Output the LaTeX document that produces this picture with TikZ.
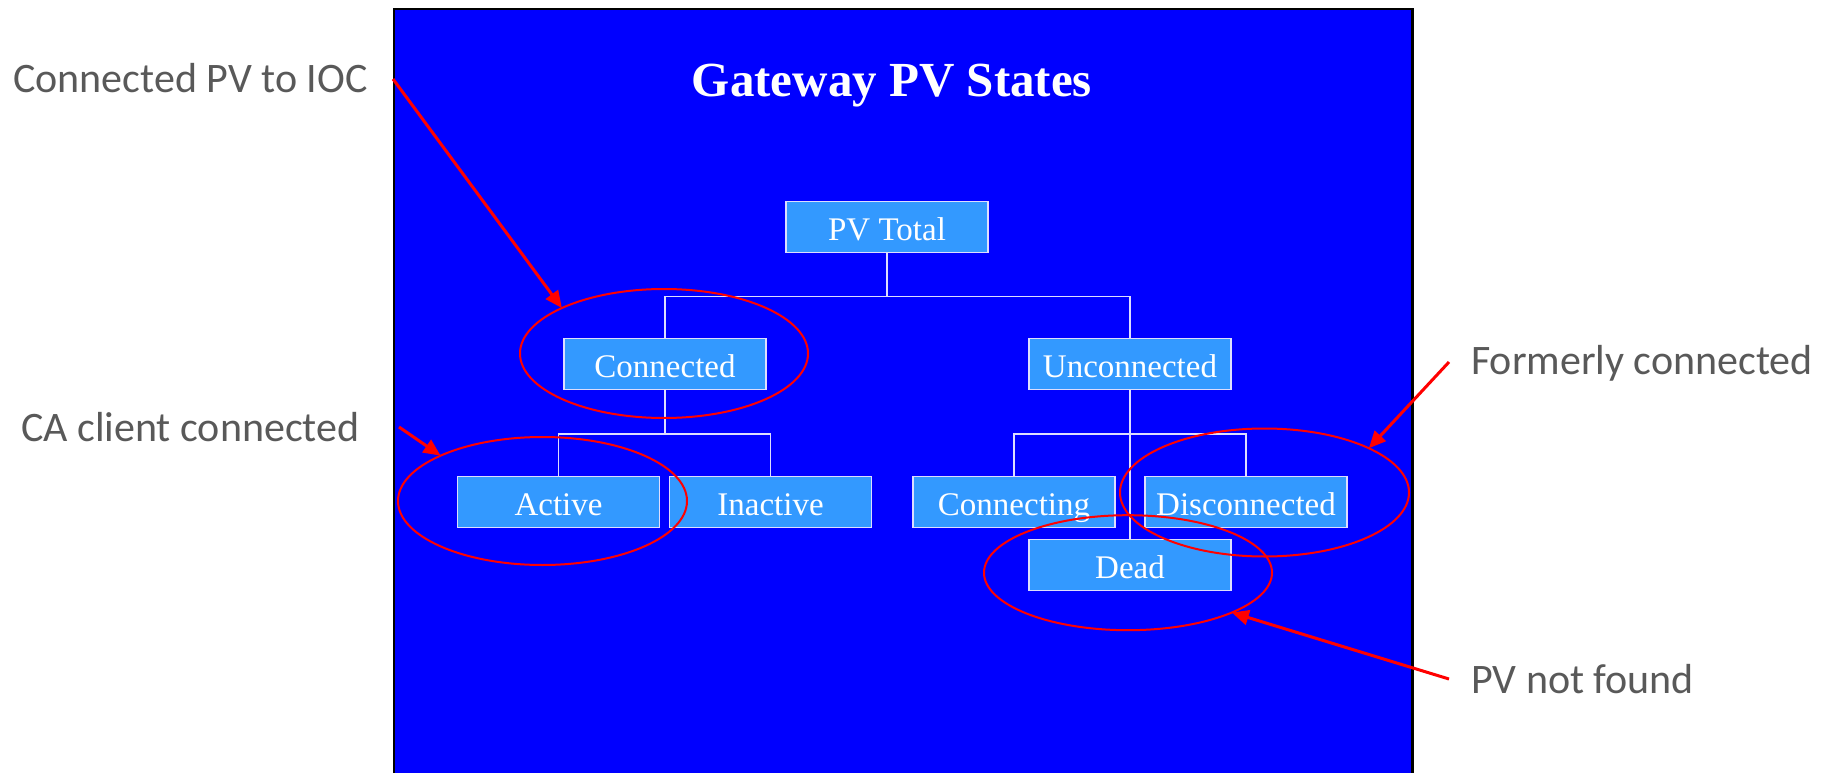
\documentclass[tikz,border=0pt]{standalone}
\usepackage{fontspec}
\setmainfont{Liberation Serif}
\newfontfamily\notefont{Carlito}
\usetikzlibrary{arrows.meta,shapes.geometric}
\definecolor{slideblue}{HTML}{0000FF}
\definecolor{boxblue}{HTML}{3399FF}
\definecolor{linelav}{HTML}{DDDDFF}
\definecolor{notegray}{HTML}{595959}
\definecolor{markred}{HTML}{FF0000}

\begin{document}
\begin{tikzpicture}[x=1pt,y=-1pt,
  state/.style={draw=linelav, line width=1.5pt, fill=boxblue, text=white,
    minimum width=202pt, minimum height=51pt, inner sep=0pt,
    text height=26pt, text depth=0pt,
    font=\fontsize{33}{36}\selectfont},
  tree/.style={draw=linelav, line width=1.5pt},
  ring/.style={ellipse, draw=markred, line width=2pt, inner sep=0pt, outer sep=0pt},
  note/.style={text=notegray, inner sep=0pt, anchor=base west,
    font=\notefont\fontsize{42}{48}\selectfont},
  pointer/.style={draw=markred, line width=3pt,
    -{Triangle[length=17pt,width=15pt]}}]

\useasboundingbox (0,0) rectangle (1837,773);
\fill[white] (0,0) rectangle (1837,773);

% slide background
\filldraw[fill=slideblue, draw=black, line width=2.5pt] (393.8,9) rectangle (1412.5,790);

% title
\node[text=white, anchor=base, inner sep=0pt,
  font=\fontsize{49}{58}\selectfont\bfseries] (title) at (892,97) {Gateway PV States};

% state boxes
\node[state] (pv)    at (887,227)    {PV Total};
\node[state] (conn)  at (665,364)    {Connected};
\node[state] (unc)   at (1130,364)   {Unconnected};
\node[state] (act)   at (558.5,502)  {Active};
\node[state] (inact) at (770.5,502)  {Inactive};
\node[state] (cing)  at (1014,502)   {Connecting};
\node[state] (disc)  at (1246,502)   {Disconnected};
\node[state] (dead)  at (1130,565)   {Dead};

% tree connectors
\draw[tree] (pv.south) -- ++(0,43) coordinate (j1);
\draw[tree] (conn.north) |- (j1) -| (unc.north);
\draw[tree] (conn.south) -- ++(0,43.5) coordinate (j2);
\draw[tree] (act.north) |- (j2) -| (inact.north);
\coordinate (j3) at (unc.south |- j2);
\draw[tree] (unc.south) -- (dead.north);
\draw[tree] (cing.north) |- (j3) -| (disc.north);

% highlight rings
\node[ring, minimum width=288pt, minimum height=129pt] (e1) at (664,353.5) {};
\node[ring, minimum width=289pt, minimum height=128pt] (e2) at (542.5,501) {};
\node[ring, minimum width=289pt, minimum height=128pt] (e3) at (1264.5,492.5) {};
\node[ring, minimum width=288pt, minimum height=115pt] (e4) at (1128,572.7) {};

% side notes
\node[note] (n1) at (13,92.7)  {Connected PV to IOC};
\node[note] (n2) at (21,441)   {CA client connected};
\node[note] (n3) at (1471,374) {Formerly connected};
\node[note] (n4) at (1471,693) {PV not found};

% pointers from the notes to the rings
\coordinate (s1) at (393,79);
\coordinate (s2) at (399,427);
\coordinate (s3) at (1449,362);
\coordinate (s4) at (1449,679);
\draw[pointer] (s1) -- (e1.156);
\draw[pointer] (s2) -- (e2.156);
\draw[pointer] (s3) -- (e3.23);
\draw[pointer] (s4) -- (e4.-21);
\end{tikzpicture}
\end{document}
